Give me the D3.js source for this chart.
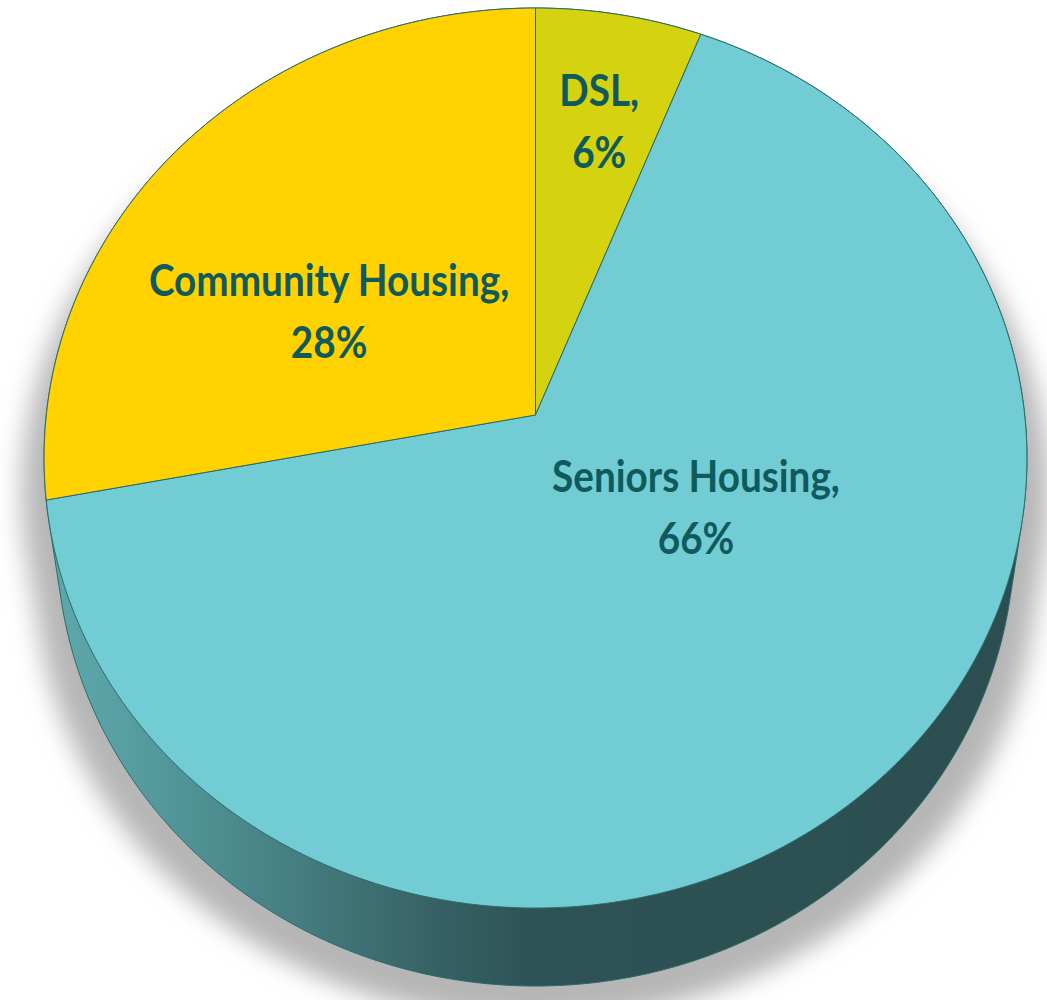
<!DOCTYPE html>
<html><head><meta charset="utf-8">
<script src="https://cdn.jsdelivr.net/npm/d3@7"></script>
<style>body{margin:0;background:#fff}</style>
</head><body>
<svg id="c" width="1047" height="1000"></svg>
<script>
// ---- data ----
const categories = ["DSL", "Seniors Housing", "Community Housing"];
const values = [6, 66, 28];
const valueLabels = ["6%", "66%", "28%"];

// ---- styles / layout ----
const sliceColors = ["#D5D20F", "#71CDD3", "#FFD200"];
const textColor = "#0f5a5c";
const edgeColor = "#2a6b6b";
// label placement (radius fraction, angle in degrees) on the projected disc
const labelPlace = [{r: 0.716, a: 11.2}, {r: 0.381, a: 122.4}, {r: 0.492, a: 298.7}];

const svg = d3.select("#c");
// projection of a tilted disc (perspective homography)
const x0 = 535.5, y0 = 415, k = 0.0956, A = 489.2, B = 445.9;
const sx = 0.975, dy = 78;
function topP(t, r = 1) {
  const u = r * Math.sin(t), v = -r * Math.cos(t), w = 1 - k * v;
  return [x0 + A * u / w, y0 + B * v / w];
}
function botP(t) { const p = topP(t); return [x0 + sx * (p[0] - x0), p[1] + dy]; }

const defs = svg.append("defs");
const grad = defs.append("linearGradient").attr("id", "side").attr("gradientUnits", "userSpaceOnUse")
  .attr("x1", 44).attr("x2", 1027).attr("y1", 0).attr("y2", 0);
[[0, "#5ea8ac"], [0.08, "#579fa2"], [0.25, "#467f82"], [0.4, "#366164"], [0.5, "#2e5255"], [1, "#2c4e51"]]
  .forEach(([o, c]) => grad.append("stop").attr("offset", o).attr("stop-color", c));
defs.append("filter").attr("id", "blur").attr("x", "-20%").attr("y", "-20%").attr("width", "140%").attr("height", "140%")
  .append("feGaussianBlur").attr("stdDeviation", 12);

const N = 720;
const pts = [];
for (let i = 0; i < N; i++) { const t = i / N * 2 * Math.PI; pts.push(topP(t)); pts.push(botP(t)); }
const hull = d3.polygonHull(pts);
const line = d3.line();

// shadow
svg.append("path").attr("d", line(hull) + "Z")
  .attr("transform", `translate(${x0},35) scale(1.045,1) translate(${-x0},0)`)
  .attr("fill", "#b6b6b6").attr("filter", "url(#blur)");

// side (cylinder silhouette)
svg.append("path").attr("d", line(hull) + "Z")
  .attr("fill", "url(#side)").attr("stroke", edgeColor).attr("stroke-width", 1);

// top face slices
const arcs = d3.pie().sort(null).value(d => d)(values);
const topG = svg.append("g");
arcs.forEach((a, i) => {
  const p = [[x0, y0]];
  const n = Math.max(8, Math.ceil((a.endAngle - a.startAngle) / (2 * Math.PI) * N));
  for (let j = 0; j <= n; j++) p.push(topP(a.startAngle + (a.endAngle - a.startAngle) * j / n));
  topG.append("path").attr("d", line(p) + "Z")
    .attr("fill", sliceColors[i]).attr("stroke", edgeColor).attr("stroke-width", 1)
    .attr("stroke-linejoin", "round");
});

// labels
const lab = svg.append("g").attr("font-family", "Lato, 'Open Sans', sans-serif")
  .attr("font-weight", 700).attr("font-size", 43).attr("fill", textColor).attr("text-anchor", "middle");
arcs.forEach((a, i) => {
  const c = topP(labelPlace[i].a * Math.PI / 180, labelPlace[i].r);
  const t = lab.append("text").attr("transform", `translate(${c[0]},${c[1]}) scale(0.9,1)`);
  t.append("tspan").attr("x", 0).attr("y", -15.5).text(categories[i] + ",");
  t.append("tspan").attr("x", 0).attr("y", 46.5).text(valueLabels[i]);
});
</script>
</body></html>
